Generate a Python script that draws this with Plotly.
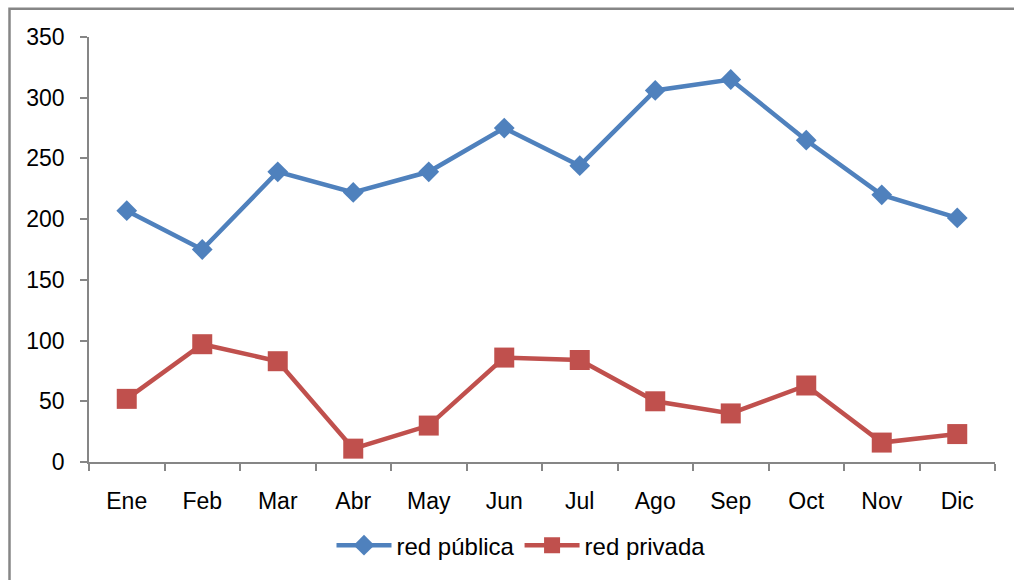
import plotly.graph_objects as go

months = ["Ene", "Feb", "Mar", "Abr", "May", "Jun", "Jul", "Ago", "Sep", "Oct", "Nov", "Dic"]
red_publica = [207, 175, 239, 222, 239, 275, 244, 306, 315, 265, 220, 201]
red_privada = [52, 97, 83, 11, 30, 86, 84, 50, 40, 63, 16, 23]
y_ticks = [0, 50, 100, 150, 200, 250, 300, 350]

W, H = 1014, 580
L, R, T, B = 89, 19, 37, 116
pw, ph = W - L - R, H - T - B

fig = go.Figure()
fig.add_trace(go.Scatter(
    x=months, y=red_publica, name="red pública", mode="lines+markers",
    line=dict(color="#4F81BD", width=4.5),
    marker=dict(symbol="diamond", size=16, color="#4F81BD"),
))
fig.add_trace(go.Scatter(
    x=months, y=red_privada, name="red privada", mode="lines+markers",
    line=dict(color="#C0504D", width=4.5),
    marker=dict(symbol="square", size=20, color="#C0504D"),
))

font = dict(family="Liberation Sans, Arial, sans-serif", size=23, color="#000000")
legend_font = dict(family="Liberation Sans, Arial, sans-serif", size=24, color="#000000")

fig.update_layout(
    width=W, height=H,
    margin=dict(l=L, r=R, t=T, b=B),
    paper_bgcolor="white", plot_bgcolor="white",
    font=font,
    showlegend=True,
    legend=dict(orientation="h", x=(521 - L) / pw, xanchor="center",
                y=(H - B - 548) / ph, yanchor="middle",
                font=legend_font, itemwidth=55, tracegroupgap=0,
                bgcolor="rgba(0,0,0,0)"),
    xaxis=dict(
        type="category", showgrid=False, zeroline=False,
        showline=True, linecolor="#868686", linewidth=1.5,
        ticks="outside", ticklen=7, tickcolor="#868686", tickwidth=1.5,
        tickson="boundaries", ticklabelstandoff=18,
        range=[-0.5, 11.5], fixedrange=True,
    ),
    yaxis=dict(
        range=[0, 350], tickvals=y_ticks, showgrid=False, zeroline=False,
        showline=True, linecolor="#868686", linewidth=1.5,
        ticks="outside", ticklen=7, tickcolor="#868686", tickwidth=1.5,
        ticklabelstandoff=11, fixedrange=True,
    ),
    shapes=[dict(
        type="rect", xref="paper", yref="paper",
        x0=(9.5 - L) / pw, x1=(W + 20 - L) / pw,
        y0=(H - B - (H + 20)) / ph, y1=1 + (T - 8.5) / ph,
        line=dict(color="#868686", width=2.5), fillcolor="rgba(0,0,0,0)",
        layer="below",
    )],
)

fig.write_html("out.html", config={"displayModeBar": False},
               post_script="document.body.style.margin='0';document.body.style.overflow='hidden';")
